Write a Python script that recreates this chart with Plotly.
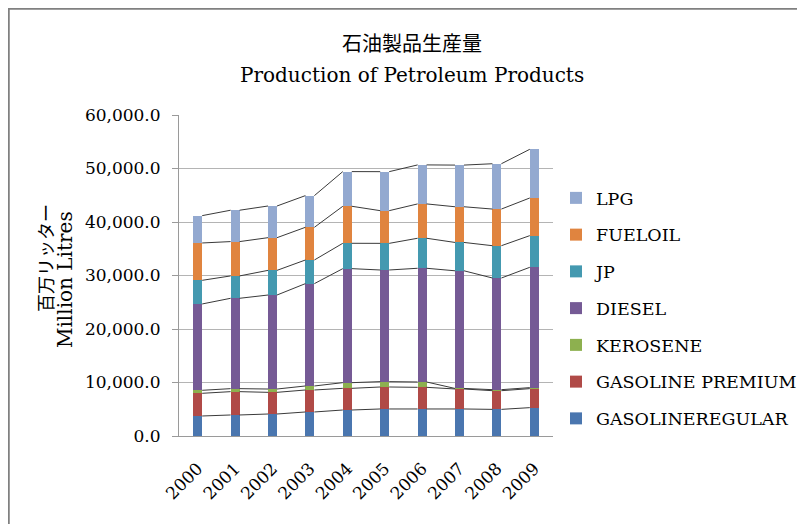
import plotly.graph_objects as go

years = ["2000", "2001", "2002", "2003", "2004", "2005", "2006", "2007", "2008", "2009"]

gasoline_regular = [3740, 3930, 4110, 4490, 4860, 5050, 5050, 5050, 4980, 5300]
gasoline_premium = [4240, 4360, 4050, 4110, 4050, 4110, 4050, 3740, 3490, 3550]
kerosene = [560, 560, 620, 750, 1060, 1000, 1000, 100, 190, 190]
diesel = [16140, 16890, 17570, 19130, 21310, 20870, 21250, 21990, 20870, 22490]
jp = [4420, 4180, 4610, 4420, 4740, 4980, 5610, 5300, 6040, 5920]
fueloil = [6980, 6420, 6110, 6110, 6920, 6110, 6420, 6670, 6850, 7040]
lpg = [5110, 5860, 5920, 5920, 6480, 7290, 7290, 7790, 8470, 9100]

series_names = ["GASOLINEREGULAR", "GASOLINE PREMIUM", "KEROSENE", "DIESEL", "JP", "FUELOIL", "LPG"]
series_values = [gasoline_regular, gasoline_premium, kerosene, diesel, jp, fueloil, lpg]
series_colors = ["#4A76AF", "#B04A47", "#8DB04F", "#755A95", "#4499B0", "#E0843F", "#93A9D0"]

FONT = "DejaVu Serif, Noto Sans CJK JP, serif"
BAR_W = 0.24

# page body has an 8px margin; work in window coordinates
OFF = 8
W, H = 805 - OFF, 524 - OFF
PLOT_L, PLOT_R, PLOT_T, PLOT_B = 179, 553, 115, 436  # window px
L, T = PLOT_L - OFF, PLOT_T - OFF
R, B = W - (PLOT_R - OFF), H - (PLOT_B - OFF)
PW, PH = PLOT_R - PLOT_L, PLOT_B - PLOT_T


def px(x):
    return (x - PLOT_L) / PW


def py(y):
    return (PLOT_B - y) / PH


fig = go.Figure()
xs = list(range(len(years)))

n = len(series_names)
for k, (name, vals, col) in enumerate(zip(series_names, series_values, series_colors)):
    fig.add_trace(go.Bar(
        x=xs, y=vals, name=name, width=BAR_W,
        marker=dict(color=col, line=dict(width=0)),
        legendgroup=name, legendrank=100 * (n - k),
    ))

# series lines connecting stack tops
cum = [0] * len(years)
for vals in series_values:
    cum = [c + v for c, v in zip(cum, vals)]
    lx, ly = [], []
    for i in range(len(years) - 1):
        lx += [i + BAR_W / 2, i + 1 - BAR_W / 2, None]
        ly += [cum[i], cum[i + 1], None]
    fig.add_trace(go.Scatter(
        x=lx, y=ly, mode="lines", line=dict(color="#3A3A3A", width=1),
        showlegend=False, hoverinfo="skip", legendgroup="lines",
    ))

fig.update_layout(
    width=W, height=H,
    margin=dict(l=L, r=R, t=T, b=B, autoexpand=False),
    barmode="stack",
    plot_bgcolor="white", paper_bgcolor="white",
    font=dict(family=FONT, color="#000000"),
    showlegend=True,
    legend=dict(
        traceorder="grouped", tracegroupgap=11,
        x=px(556), xanchor="left", y=py(180), yanchor="top",
        font=dict(family=FONT, size=17.5, color="#000000"),
        bgcolor="rgba(0,0,0,0)",
    ),
    xaxis=dict(
        range=[-0.5, len(years) - 0.5],
        tickmode="array", tickvals=xs, ticktext=years,
        tickangle=-45, tickfont=dict(family=FONT, size=17),
        showgrid=False, zeroline=False, showline=True,
        linecolor="#9A9A9A", linewidth=1, ticks="",
        ticklabelstandoff=15,
    ),
    yaxis=dict(
        range=[0, 60000], dtick=10000, tickformat=",.1f",
        tickfont=dict(family=FONT, size=17),
        showgrid=True, gridcolor="#B4B4B4", gridwidth=1,
        zeroline=False, showline=True, linecolor="#9A9A9A", linewidth=1,
        ticks="outside", ticklen=6, tickcolor="#9A9A9A",
        ticklabelstandoff=8,
    ),
    annotations=[
        dict(text="石油製品生産量", x=px(412), y=py(42), xref="paper", yref="paper",
             showarrow=False, xanchor="center", yanchor="middle",
             font=dict(family="Noto Sans CJK JP", size=20, color="#000000")),
        dict(text="Production of Petroleum Products", x=px(412), y=py(75), xref="paper", yref="paper",
             showarrow=False, xanchor="center", yanchor="middle",
             font=dict(family=FONT, size=20, color="#000000")),
        dict(text="百万リッター", x=px(45), y=py(258), xref="paper", yref="paper",
             showarrow=False, xanchor="center", yanchor="middle", textangle=-90,
             font=dict(family="Noto Sans CJK JP", size=18, color="#000000")),
        dict(text="Million Litres", x=px(65), y=py(280), xref="paper", yref="paper",
             showarrow=False, xanchor="center", yanchor="middle", textangle=-90,
             font=dict(family=FONT, size=20, color="#000000")),
    ],
    shapes=[
        dict(type="rect", xref="paper", yref="paper",
             x0=px(8.5), x1=px(830), y0=py(560), y1=py(8.5),
             line=dict(color="#808080", width=2.5), fillcolor="rgba(0,0,0,0)", layer="below"),
    ],
)

fig.write_html("out.html")
